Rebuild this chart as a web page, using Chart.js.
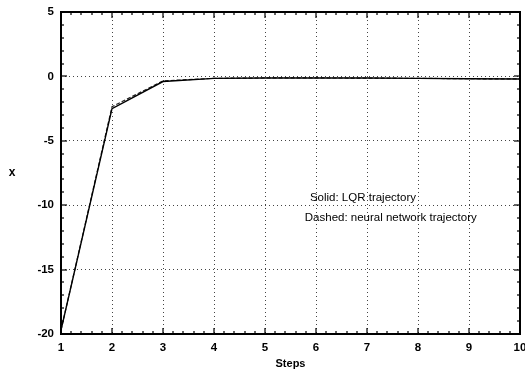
<!DOCTYPE html>
<html><head><meta charset="utf-8">
<script src="https://cdn.jsdelivr.net/npm/chart.js@4/dist/chart.umd.min.js"></script>
<style>html,body{margin:0;padding:0;background:#fff}#w{width:525px;height:379px}</style>
</head><body><div id="w"><canvas id="c" width="525" height="379"></canvas></div>
<script>
const steps = [1,2,3,4,5,6,7,8,9,10];
const lqr = [-19.7,-2.5,-0.4,-0.15,-0.12,-0.12,-0.13,-0.15,-0.18,-0.2];
const nn  = [-19.7,-2.35,-0.35,-0.15,-0.12,-0.12,-0.13,-0.15,-0.18,-0.2];
const xTicks = [1,2,3,4,5,6,7,8,9,10];
const yTicks = [-20,-15,-10,-5,0,5];
const notes = ["Solid: LQR trajectory","Dashed: neural network trajectory"];

const FONT = "'Liberation Sans', Arial, sans-serif";

const framePlugin = {
  id:'frame',
  afterDraw(chart){
    const ctx = chart.ctx, a = chart.chartArea;
    const xs = chart.scales.x, ys = chart.scales.y;
    ctx.save();
    ctx.globalAlpha = 1;
    ctx.globalCompositeOperation = 'source-over';
    ctx.fillStyle = '#000';
    const L = Math.round(a.left), R = Math.round(a.right), T = Math.round(a.top), B = Math.round(a.bottom);
    for (let i = 0; i <= 45; i++) {
      const px = Math.round(xs.getPixelForValue(1 + i * 0.2));
      const len = (i % 5 === 0) ? 6 : 3;
      ctx.fillRect(px - 0.6, B - len, 1.2, len);
      ctx.fillRect(px - 0.6, T, 1.2, len);
    }
    for (let v = -20; v <= 5; v += 1) {
      const py = Math.round(ys.getPixelForValue(v));
      const len = (v % 5 === 0) ? 6 : 3;
      ctx.fillRect(L, py - 0.6, len, 1.2);
      ctx.fillRect(R - len, py - 0.6, len, 1.2);
    }
    ctx.fillRect(L - 1, T - 1, R - L + 2, 2);
    ctx.fillRect(L - 1, B - 1, R - L + 2, 2);
    ctx.fillRect(L - 1, T - 1, 2, B - T + 2);
    ctx.fillRect(R - 1, T - 1, 2, B - T + 2);
    ctx.font = '11.5px ' + FONT;
    ctx.textBaseline = 'middle';
    ctx.fillText(notes[0], xs.getPixelForValue(5.88), ys.getPixelForValue(-9.44));
    ctx.fillText(notes[1], xs.getPixelForValue(5.78), ys.getPixelForValue(-11.0));
    ctx.font = 'bold 12px ' + FONT;
    ctx.textAlign = 'center';
    ctx.fillText('x', 12, ys.getPixelForValue(-7.5));
    ctx.restore();
  }
};

new Chart(document.getElementById('c'), {
  type:'line',
  data:{
    datasets:[
      {label:'LQR', data: steps.map((s,i)=>({x:s,y:lqr[i]})), borderColor:'#000', borderWidth:1.4, pointRadius:0, fill:false, tension:0},
      {label:'NN', data: steps.map((s,i)=>({x:s,y:nn[i]})), borderColor:'#222', borderWidth:1.2, borderDash:[4,2], pointRadius:0, fill:false, tension:0}
    ]
  },
  options:{
    responsive:false, animation:false, devicePixelRatio:1,
    layout:{padding:{top:12,right:5,left:0,bottom:8}},
    plugins:{legend:{display:false}, tooltip:{enabled:false}},
    scales:{
      x:{type:'linear', min:1, max:10,
        afterBuildTicks(s){ s.ticks = xTicks.map(v=>({value:v})); },
        afterFit(s){ s.height = 37; s.paddingLeft = 0; s.paddingRight = 0; },
        grid:{color:'#444', lineWidth:1, drawTicks:false},
        border:{display:false, dash:[1,3]},
        ticks:{color:'#000', font:{family:FONT, size:11.5, weight:'bold'}, padding:7, maxRotation:0, autoSkip:false},
        title:{display:true, text:'Steps', color:'#000', font:{family:FONT, size:11, weight:'bold'}, padding:{top:0,bottom:0}}
      },
      y:{type:'linear', min:-20, max:5,
        afterBuildTicks(s){ s.ticks = yTicks.map(v=>({value:v})); },
        afterFit(s){ s.width = 61; s.paddingTop = 0; s.paddingBottom = 0; },
        grid:{color:'#444', lineWidth:1, drawTicks:false},
        border:{display:false, dash:[1,3]},
        ticks:{color:'#000', font:{family:FONT, size:11.5, weight:'bold'}, padding:7}
      }
    }
  },
  plugins:[framePlugin]
});
</script></body></html>
